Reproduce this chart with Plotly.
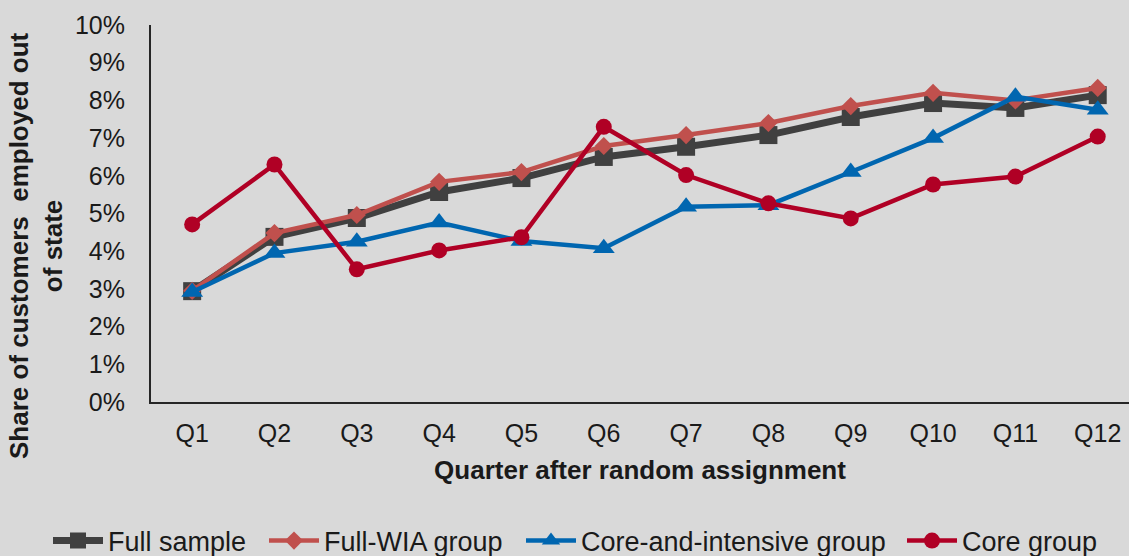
import plotly.graph_objects as go

quarters = ["Q1", "Q2", "Q3", "Q4", "Q5", "Q6", "Q7", "Q8", "Q9", "Q10", "Q11", "Q12"]
full_sample = [2.94, 4.38, 4.88, 5.57, 5.94, 6.50, 6.77, 7.08, 7.56, 7.93, 7.80, 8.14]
full_wia = [2.95, 4.48, 4.96, 5.84, 6.10, 6.79, 7.08, 7.40, 7.85, 8.20, 8.00, 8.33]
core_intensive = [2.92, 3.95, 4.25, 4.76, 4.27, 4.08, 5.18, 5.22, 6.10, 7.00, 8.10, 7.75]
core_group = [4.71, 6.30, 3.52, 4.02, 4.37, 7.30, 6.02, 5.27, 4.87, 5.77, 5.98, 7.04]
y_ticks = [0, 1, 2, 3, 4, 5, 6, 7, 8, 9, 10]
y_tick_labels = [f"{v}%" for v in y_ticks]

BG = "#d9d9d9"
FONT = "Liberation Sans, Arial, sans-serif"
TXT = "#1a1a1a"
xs = list(range(len(quarters)))

fig = go.Figure()
fig.add_trace(go.Scatter(x=xs, y=full_sample, name="Full sample", mode="lines+markers",
                         legend="legend",
                         line=dict(color="#404040", width=7),
                         marker=dict(symbol="square", size=18, color="#404040")))
fig.add_trace(go.Scatter(x=xs, y=full_wia, name="Full-WIA group", mode="lines+markers",
                         legend="legend2",
                         line=dict(color="#c0504d", width=4.5),
                         marker=dict(symbol="diamond", size=14, color="#c0504d")))
fig.add_trace(go.Scatter(x=xs, y=core_intensive, name="Core-and-intensive group", mode="lines+markers",
                         legend="legend3",
                         line=dict(color="#0066b0", width=4.5),
                         marker=dict(symbol="triangle-up", size=19, color="#0066b0")))
fig.add_trace(go.Scatter(x=xs, y=core_group, name="Core group", mode="lines+markers",
                         legend="legend4",
                         line=dict(color="#b00025", width=4.5),
                         marker=dict(symbol="circle", size=16, color="#b00025")))


def leg(xpx):
    return dict(orientation="h", x=xpx / 1129, xref="container", xanchor="left",
                y=0.027, yref="container", yanchor="middle",
                font=dict(family=FONT, size=27, color=TXT),
                itemwidth=50, bgcolor="rgba(0,0,0,0)")


fig.update_layout(
    width=1129, height=556,
    paper_bgcolor=BG, plot_bgcolor=BG,
    margin=dict(l=151, r=0, t=25, b=154),
    font=dict(family=FONT, size=25, color=TXT),
    showlegend=True,
    legend=leg(48), legend2=leg(264), legend3=leg(521), legend4=leg(902),
    xaxis=dict(range=[-0.5, 11.38], tickmode="array", tickvals=xs, ticktext=quarters,
               showgrid=False, zeroline=False, showline=True, linecolor="#262626", linewidth=2,
               ticks="", ticklabelstandoff=8,
               tickfont=dict(family=FONT, size=25, color=TXT),
               title=dict(text="<b>Quarter after random assignment</b>", standoff=15,
                          font=dict(family=FONT, size=26, color=TXT))),
    yaxis=dict(range=[0, 10], tickmode="array", tickvals=y_ticks, ticktext=y_tick_labels,
               showgrid=False, zeroline=False, showline=True, linecolor="#262626", linewidth=2,
               ticks="", ticklabelstandoff=19,
               tickfont=dict(family=FONT, size=25, color=TXT)),
)

fig.add_annotation(text="<b>Share of customers  employed out<br>of state</b>",
                   xref="paper", yref="paper", x=-0.1175, y=0.414,
                   xanchor="center", yanchor="middle", textangle=-90, showarrow=False,
                   font=dict(family=FONT, size=26, color=TXT))

fig.write_html("out.html", config={"displayModeBar": False},
               post_script="document.body.style.margin='0';document.body.style.background='%s';" % BG)
